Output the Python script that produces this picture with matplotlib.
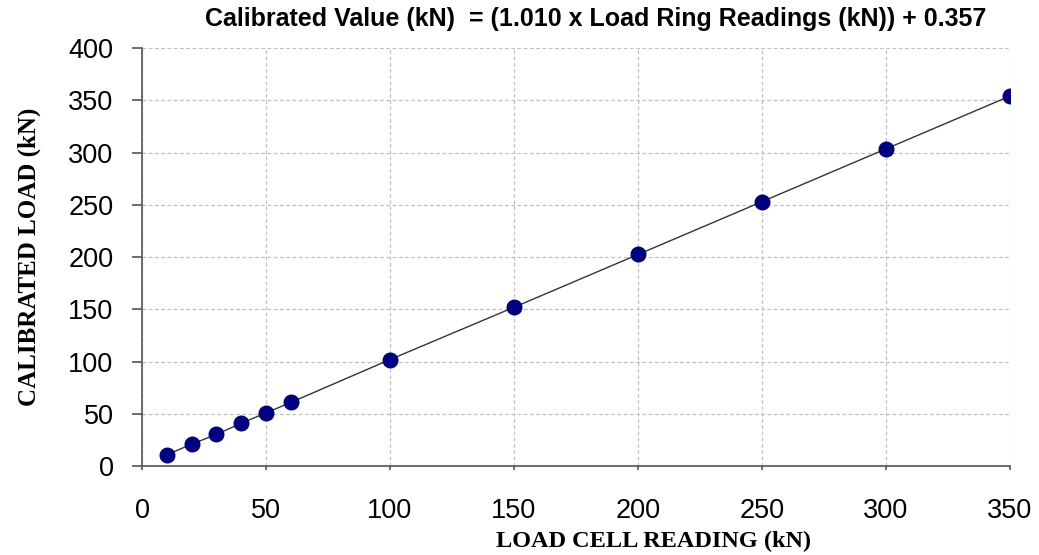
import matplotlib
matplotlib.use("Agg")
import matplotlib.pyplot as plt

# Load cell reading vs calibrated load (kN)
load_cell_reading = [10, 20, 30, 40, 50, 60, 100, 150, 200, 250, 300, 350]
calibrated_load = [11, 21, 30.5, 41, 51, 61, 102, 152, 202.5, 253, 303.5, 354]

x_ticks = [0, 50, 100, 150, 200, 250, 300, 350]
y_ticks = [0, 50, 100, 150, 200, 250, 300, 350, 400]

title = "Calibrated Value (kN)  = (1.010 x Load Ring Readings (kN)) + 0.357"

fig = plt.figure(figsize=(10.39, 5.55), dpi=100)
ax = fig.add_axes([0.1367, 0.160, 0.8353, 0.7535])

# fitted line and readings
ax.plot(load_cell_reading, calibrated_load, color="#333333", linewidth=1.0, zorder=2)
ax.plot(load_cell_reading, calibrated_load, "o", color="#000080",
        markeredgecolor="#000070", markersize=10.5, zorder=3, linestyle="none")

ax.set_xlim(0, 350)
ax.set_ylim(0, 400)
ax.set_xticks(x_ticks)
ax.set_yticks(y_ticks)

ax.grid(True, color="#c0c0c0", linestyle=(0, (3, 2)), linewidth=0.9)
ax.set_axisbelow(True)
for side in ["top", "right"]:
    ax.spines[side].set_visible(False)
for side in ["left", "bottom"]:
    ax.spines[side].set_color("#555555")
    ax.spines[side].set_linewidth(1.2)

ax.tick_params(axis="y", direction="out", length=7, width=1.2, color="#555555",
               pad=13.5, labelsize=19.5)
ax.tick_params(axis="x", direction="out", length=3, width=1.2, color="#555555",
               pad=20, labelsize=19.5)
for lbl in ax.get_xticklabels() + ax.get_yticklabels():
    lbl.set_family("Liberation Sans")

ax.set_xlabel("LOAD CELL READING (kN)", fontsize=17.5, fontweight="bold",
              family="Liberation Serif")
ax.xaxis.set_label_coords(0.589, -0.155)
ax.set_ylabel("CALIBRATED LOAD (kN)", fontsize=18, fontweight="bold",
              family="Liberation Serif", labelpad=20)

fig.text(0.573, 0.966, title, ha="center", va="center", fontsize=18,
         fontweight="bold", family="Liberation Sans")

fig.savefig("out.png", dpi=100)
